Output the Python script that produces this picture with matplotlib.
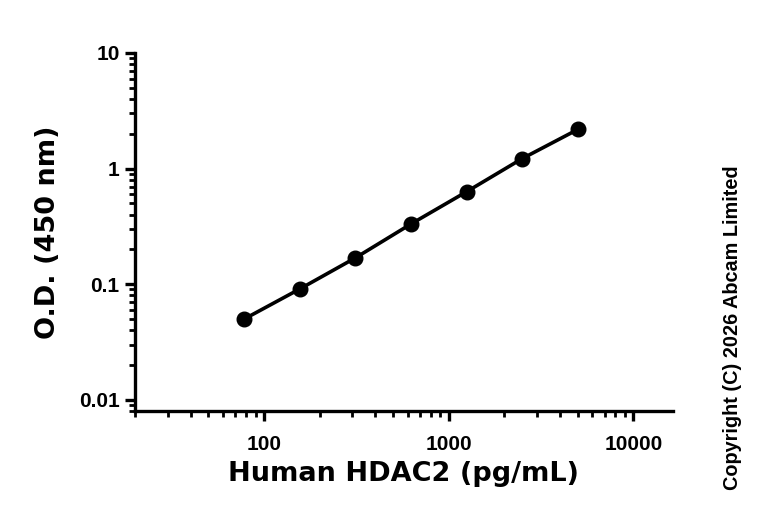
import matplotlib
matplotlib.use("Agg")
import matplotlib.pyplot as plt
from matplotlib.ticker import LogLocator, FixedLocator, FixedFormatter, NullFormatter

plt.rcParams["font.family"] = ["Liberation Sans", "DejaVu Sans"]

conc = [78.125, 156.25, 312.5, 625, 1250, 2500, 5000]
od = [0.050, 0.091, 0.169, 0.332, 0.631, 1.22, 2.18]

xticks = [100, 1000, 10000]
xticklabels = ["100", "1000", "10000"]
yticks = [0.01, 0.1, 1, 10]
yticklabels = ["0.01", "0.1", "1", "10"]

fig = plt.figure(figsize=(7.68, 5.18), dpi=100)
ax = fig.add_axes([135 / 768, 1 - 411 / 518, (673 - 135) / 768, (411 - 53) / 518])

ax.plot(conc, od, color="black", lw=2.6, marker="o", ms=10.5, clip_on=False)
ax.set_xscale("log")
ax.set_yscale("log")
ax.set_xlim(20, 16400)
ax.set_ylim(0.008, 10)

ax.xaxis.set_major_locator(FixedLocator(xticks))
ax.xaxis.set_major_formatter(FixedFormatter(xticklabels))
ax.yaxis.set_major_locator(FixedLocator(yticks))
ax.yaxis.set_major_formatter(FixedFormatter(yticklabels))
ax.xaxis.set_minor_locator(LogLocator(base=10, subs=range(2, 10), numticks=20))
ax.yaxis.set_minor_locator(LogLocator(base=10, subs=range(2, 10), numticks=20))
ax.xaxis.set_minor_formatter(NullFormatter())
ax.yaxis.set_minor_formatter(NullFormatter())

for s in ["top", "right"]:
    ax.spines[s].set_visible(False)
for s in ["left", "bottom"]:
    ax.spines[s].set_linewidth(2.4)

ax.tick_params(which="major", length=7, width=2.4, direction="out", labelsize=15)
ax.tick_params(axis="x", which="major", pad=10)
ax.tick_params(axis="y", which="major", pad=4)
ax.tick_params(which="minor", length=4, width=2.0, direction="out")
for lab in ax.get_xticklabels() + ax.get_yticklabels():
    lab.set_fontweight("bold")

ax.set_xlabel("Human HDAC2 (pg/mL)", fontsize=19.5, fontweight="bold",
              family="DejaVu Sans", labelpad=5)
ax.set_ylabel("O.D. (450 nm)", fontsize=19.5, fontweight="bold",
              family="DejaVu Sans", labelpad=13)

fig.text(733 / 768, 1 - 328 / 518, "Copyright (C) 2026 Abcam Limited",
         rotation=90, ha="center", va="center", fontsize=14.3,
         fontweight="bold")

fig.savefig("out.png", dpi=100, facecolor="white")
